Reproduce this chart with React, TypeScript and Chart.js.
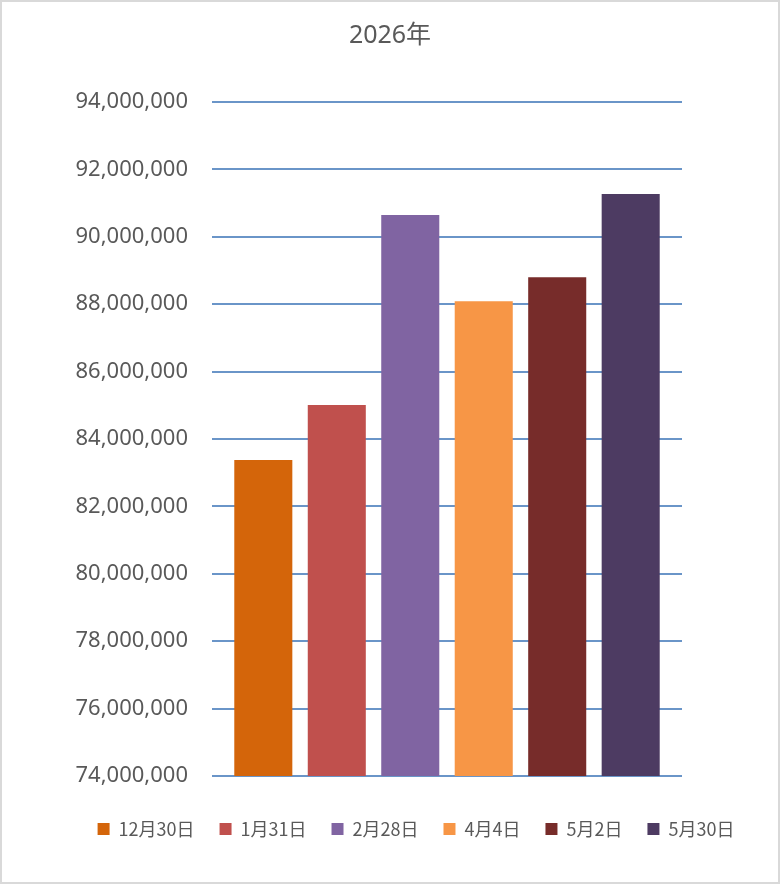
import React, { useEffect, useRef } from 'react';
import Chart from 'chart.js/auto';

const dates = ['12月30日', '1月31日', '2月28日', '4月4日', '5月2日', '5月30日'];
const values = [83380000, 85010000, 90650000, 88090000, 88800000, 91270000];
const barColors = ['#D4650A', '#C0504D', '#8064A2', '#F79646', '#772C2A', '#4D3B62'];

const yMin = 74000000;
const yMax = 94000000;
const yStep = 2000000;

const textColor = '#595959';
const gridColor = '#6A95C8';

// nudges the legend a bit right, like the original sits off-centre
const legendShift = {
    id: 'legendShift',
    afterLayout(chart: any) {
        const l = chart.legend;
        if (l) {
            l.left += 26;
            l.right += 26;
        }
    }
};

const App = () => {
    const chartRef = useRef<HTMLCanvasElement>(null);

    useEffect(() => {
        const chartInstance = new Chart(chartRef.current!, {
            type: 'bar',
            data: {
                labels: [''],
                datasets: dates.map((d, i) => ({
                    label: d,
                    data: [values[i]],
                    backgroundColor: barColors[i],
                    borderWidth: 0,
                    categoryPercentage: 0.938,
                    barPercentage: 0.79,
                }))
            },
            options: {
                animation: false,
                responsive: true,
                maintainAspectRatio: false,
                layout: {
                    padding: { top: 0, left: 0, right: 0, bottom: 34 }
                },
                plugins: {
                    title: {
                        display: true,
                        text: '2026年',
                        color: textColor,
                        font: { family: "'Noto Sans', 'Noto Sans CJK JP'", size: 25, weight: 'normal' },
                        padding: { top: 19, bottom: 51 }
                    },
                    legend: {
                        position: 'bottom',
                        labels: {
                            boxWidth: 12,
                            boxHeight: 12,
                            padding: 25,
                            color: textColor,
                            font: { family: "'Noto Sans CJK JP'", size: 18 }
                        }
                    },
                    tooltip: { enabled: false }
                },
                scales: {
                    x: {
                        grid: { display: false },
                        border: { display: false },
                        ticks: { display: false },
                        afterFit: (scale: any) => { scale.height = 19; }
                    },
                    y: {
                        min: yMin,
                        max: yMax,
                        grid: {
                            color: gridColor,
                            lineWidth: 2,
                            drawTicks: false
                        },
                        border: { display: false },
                        ticks: {
                            stepSize: yStep,
                            padding: 24,
                            color: textColor,
                            font: { family: "'Noto Sans'", size: 22 },
                            callback: (v: any) => Number(v).toLocaleString('en-US')
                        },
                        afterFit: (scale: any) => { scale.width = 210; }
                    },
                    yRight: {
                        type: 'linear',
                        position: 'right',
                        grid: { display: false },
                        border: { display: false },
                        ticks: { display: false },
                        afterFit: (scale: any) => { scale.width = 96; }
                    }
                }
            },
            plugins: [legendShift]
        });

        return () => {
            chartInstance.destroy();
        };
    }, []);

    return (
        <div style={{
            position: 'absolute', left: 0, top: 0, width: 780, height: 884,
            border: '2px solid #D9D9D9', boxSizing: 'border-box', background: '#fff'
        }}>
            <canvas ref={chartRef} />
        </div>
    );
};

export default App;
